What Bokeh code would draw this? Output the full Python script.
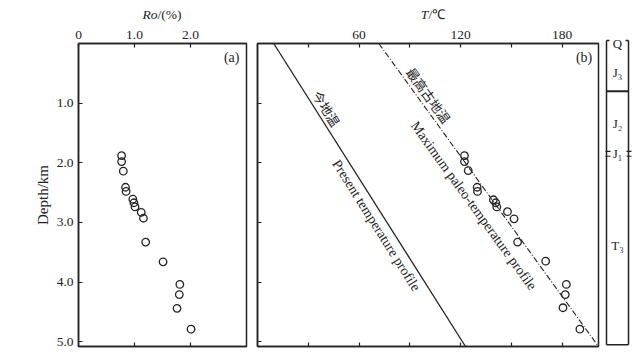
import math
from bokeh.plotting import figure
from bokeh.models import Range1d, LinearAxis, FixedTicker, PrintfTickFormatter, CustomJSTickFormatter, Div
from bokeh.layouts import row, column
from bokeh.core.properties import value
from bokeh.embed import file_html
from bokeh.resources import INLINE

# ---------------- data ----------------
ro = [0.77, 0.77, 0.80, 0.84, 0.85, 0.97, 0.99, 1.01, 1.12, 1.16, 1.20, 1.51, 1.81, 1.80, 1.76, 2.01]
ro_depth = [1.88, 1.98, 2.14, 2.41, 2.48, 2.61, 2.67, 2.74, 2.83, 2.93, 3.33, 3.66, 4.04, 4.21, 4.44, 4.79]

temp = [122.3, 122.3, 124.5, 129.8, 130.0, 139.4, 140.8, 141.4, 147.7, 151.6, 153.7, 170.3, 182.5, 181.9, 180.5, 190.5]
temp_depth = [1.88, 1.98, 2.13, 2.41, 2.48, 2.62, 2.67, 2.74, 2.82, 2.94, 3.33, 3.65, 4.04, 4.21, 4.43, 4.79]

present_T = [9.6, 122.9]
present_depth = [0.0, 5.08]
paleo_T = [71.7, 201.5]
paleo_depth = [0.0, 5.08]

depth_ticks = [1, 2, 3, 4, 5]
ro_ticks = [0, 1, 2]
t_ticks = [60, 120, 180]
t_minor = [30, 90, 150]

units = ["Q", "J\u2083", "J\u2082", "J\u2081", "T\u2083"]
unit_label_depth = [0.0, 0.49, 1.34, 1.85, 3.39]
j3_j2_boundary = 0.80
j1_top, j1_bottom = 1.81, 1.89
column_top, column_bottom = -0.05, 5.05

# ---------------- style ----------------
SERIF = "Liberation Serif"
CJK = "Noto Sans CJK SC"
INK = "#222222"
DMAX = 5.08
TITLE_H = 22
MAIN_H = 358 - TITLE_H
FRAME_TOP, FRAME_BOTTOM = 43 - TITLE_H, 12


def style_axis(ax, ticks, minor=None, show_labels=True, formatter=None, overrides=None):
    ax.ticker = FixedTicker(ticks=ticks, minor_ticks=minor or [])
    ax.major_tick_in = 4
    ax.major_tick_out = 0
    ax.minor_tick_in = 4 if minor else 0
    ax.minor_tick_out = 0
    ax.axis_line_color = INK
    ax.axis_line_width = 1.5
    ax.major_tick_line_color = INK
    ax.minor_tick_line_color = INK
    ax.major_tick_line_width = 1.2
    ax.minor_tick_line_width = 1.2
    ax.major_label_text_font = SERIF
    ax.major_label_text_font_size = "13.5px"
    ax.major_label_text_color = INK
    if show_labels:
        ax.major_label_standoff = 5
        if formatter is not None:
            ax.formatter = formatter
        if overrides:
            ax.major_label_overrides = overrides
    else:
        ax.formatter = CustomJSTickFormatter(code="return ''")
        ax.major_label_standoff = 0


def base_fig(width, x_range, left, right):
    p = figure(width=width, height=MAIN_H, x_range=x_range, y_range=Range1d(DMAX, 0),
               x_axis_location="above", y_axis_location="left",
               toolbar_location=None, output_backend="svg",
               min_border_left=left, min_border_right=right,
               min_border_top=FRAME_TOP, min_border_bottom=FRAME_BOTTOM)
    p.xgrid.visible = False
    p.ygrid.visible = False
    p.outline_line_color = INK
    p.outline_line_width = 1.5
    p.background_fill_color = "white"
    p.border_fill_color = "white"
    return p


def title_div(width, italic_part, plain_part, pad_left, pad_right):
    html = ("<div style=\"width:%dpx;height:%dpx;box-sizing:border-box;padding:8px %dpx 0 %dpx;"
            "text-align:center;font-family:'%s';font-size:13.5px;line-height:13.5px;color:%s;"
            "white-space:nowrap;\"><i>%s</i>%s</div>"
            % (width, TITLE_H, pad_right, pad_left, SERIF, INK, italic_part, plain_part))
    return Div(text=html, width=width, height=TITLE_H, margin=0)


# ---------------- panel (a) ----------------
xr_a = Range1d(0, 3.0)
pa = base_fig(251, xr_a, 78, 5)
style_axis(pa.xaxis[0], ro_ticks, show_labels=True,
           formatter=PrintfTickFormatter(format="%.1f"), overrides={0: "0"})
ax_b = LinearAxis()
style_axis(ax_b, [1, 2], show_labels=False)
pa.add_layout(ax_b, "below")
style_axis(pa.yaxis[0], depth_ticks, show_labels=True,
           formatter=PrintfTickFormatter(format="%.1f"))
pa.yaxis[0].axis_label = "Depth/km"
pa.yaxis[0].axis_label_text_font = SERIF
pa.yaxis[0].axis_label_text_font_style = "normal"
pa.yaxis[0].axis_label_text_font_size = "15px"
pa.yaxis[0].axis_label_text_color = INK
pa.yaxis[0].axis_label_standoff = 3

pa.scatter(ro, ro_depth, marker="circle", size=7.5, fill_alpha=0,
           line_color=INK, line_width=1.3)
pa.text(x=[2.875], y=[0.235], text=["(a)"], text_font=value(SERIF), text_font_size="14px",
        text_align="right", text_baseline="middle", text_color=INK)

ta = title_div(251, "Ro", "/(%)", 78, 5)

# ---------------- panel (b) ----------------
TMAX = 201.5
xr_b = Range1d(0, TMAX)
pb = base_fig(351, xr_b, 6, 4)
style_axis(pb.xaxis[0], t_ticks, minor=t_minor, show_labels=True)
ax_bb = LinearAxis()
style_axis(ax_bb, t_ticks, minor=t_minor, show_labels=False)
pb.add_layout(ax_bb, "below")
style_axis(pb.yaxis[0], depth_ticks, show_labels=False)

pb.line(present_T, present_depth, line_color=INK, line_width=1.3)
pb.line(paleo_T, paleo_depth, line_color=INK, line_width=1.1, line_dash="6 2 1 2")
pb.scatter(temp, temp_depth, marker="circle", size=7.5, fill_alpha=0,
           line_color=INK, line_width=1.3)

px_T = 341 / TMAX
px_D = 303 / DMAX
ang_present = -math.atan2((present_depth[1] - present_depth[0]) * px_D,
                          (present_T[1] - present_T[0]) * px_T)
ang_paleo = -math.atan2((paleo_depth[1] - paleo_depth[0]) * px_D,
                        (paleo_T[1] - paleo_T[0]) * px_T)

pb.text(x=[40.8], y=[1.09], text=["今地温"], angle=ang_present, text_font=value(CJK),
        text_font_size="13px", text_align="center", text_baseline="middle", text_color=INK)
pb.text(x=[70.2], y=[3.05], text=["Present temperature profile"], angle=ang_present,
        text_font=value(SERIF), text_font_size="14px", text_align="center",
        text_baseline="middle", text_color=INK)
pb.text(x=[101.2], y=[0.87], text=["最高古地温"], angle=ang_paleo, text_font=value(CJK),
        text_font_size="13px", text_align="center", text_baseline="middle", text_color=INK)
pb.text(x=[127.8], y=[2.72], text=["Maximum paleo-temperature profile"], angle=ang_paleo,
        text_font=value(SERIF), text_font_size="14px", text_align="center",
        text_baseline="middle", text_color=INK)
pb.text(x=[197.8], y=[0.235], text=["(b)"], text_font=value(SERIF), text_font_size="14px",
        text_align="right", text_baseline="middle", text_color=INK)

tb = title_div(351, "T", "/\u2103", 13, 0)

# ---------------- stratigraphic column ----------------
pad = 5 / px_D
pc = figure(width=41, height=358, x_range=Range1d(0, 37),
            y_range=Range1d(DMAX + pad, -pad),
            x_axis_location=None, y_axis_location=None,
            toolbar_location=None, output_backend="svg",
            min_border_left=2, min_border_right=2,
            min_border_top=43 - 5, min_border_bottom=FRAME_BOTTOM - 5)
pc.xgrid.visible = False
pc.ygrid.visible = False
pc.outline_line_color = None
pc.background_fill_color = "white"
pc.border_fill_color = "white"

L, R = 2, 24
# outer border (top drawn only at the corners, leaving room for "Q")
pc.segment(x0=[L, R, L, L, R - 3], y0=[column_top, column_top, column_bottom, column_top, column_top],
           x1=[L, R, R, L + 3, R], y1=[column_bottom, column_bottom, column_bottom, column_top, column_top],
           line_color=INK, line_width=1.5)
# J3 / J2 boundary
pc.segment(x0=[L], y0=[j3_j2_boundary], x1=[R], y1=[j3_j2_boundary], line_color=INK, line_width=2)
# J1 short ticks on both sides
pc.segment(x0=[L - 1, L - 1, R - 2, R - 2], y0=[j1_top, j1_bottom, j1_top, j1_bottom],
           x1=[L + 4, L + 4, R + 3, R + 3], y1=[j1_top, j1_bottom, j1_top, j1_bottom],
           line_color=INK, line_width=1.2)
pc.text(x=[13] * len(units), y=unit_label_depth, text=units, text_font=value(SERIF),
        text_font_size="13px", text_align="center", text_baseline="middle", text_color=INK)

layout = row(column(ta, pa), column(tb, pb), pc)
open("out.html", "w").write(file_html(layout, INLINE))
